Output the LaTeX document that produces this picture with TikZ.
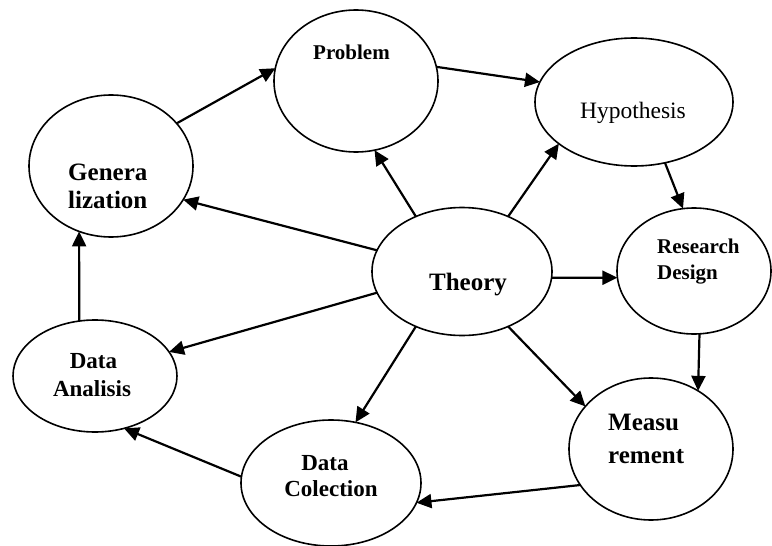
\documentclass[tikz,border=0pt]{standalone}
\usepackage{fontspec}
\setmainfont{Liberation Serif}
\usetikzlibrary{shapes.geometric,arrows.meta}
\newcommand\FontBig{\fontsize{25}{30}\selectfont\bfseries}
\newcommand\FontMid{\fontsize{23}{28}\selectfont\bfseries}
\newcommand\FontSmall{\fontsize{21}{25}\selectfont\bfseries}
\newcommand\FontReg{\fontsize{23.5}{28}\selectfont}
\tikzset{
  oval/.style 2 args={ellipse, draw, line width=1.6pt, inner sep=0pt, outer sep=0pt,
    minimum width=#1pt, minimum height=#2pt},
  arr/.style={line width=2.2pt, -{Triangle[length=15pt,width=14pt]}},
  lbl/.style={inner sep=0pt, anchor=base},
  lblw/.style={inner sep=0pt, anchor=base west}
}
\begin{document}
\begin{tikzpicture}[x=1pt,y=-1pt]
\useasboundingbox (0,0) rectangle (772,546);
% ellipses
\node[oval={164}{142}] (gen)  at (111,166)   {};
\node[oval={164}{142}] (prob) at (356,81)    {};
\node[oval={198}{128}] (hyp)  at (634,102)   {};
\node[oval={154}{126}] (res)  at (694,271)   {};
\node[oval={180}{128}] (theo) at (462,271.5) {};
\node[oval={164}{142}] (meas) at (651,449)   {};
\node[oval={180}{126}] (col)  at (331,483)   {};
\node[oval={164}{112}] (ana)  at (95,376)    {};
% labels
\node[lbl,font=\FontSmall] (tprob) at (351.5,59) {Problem};
\node[lbl,font=\FontReg] (thyp) at (633,118) {Hypothesis};
\node[lblw,font=\FontBig] (tgen1) at (68,180) {Genera};
\node[lblw,font=\FontBig] (tgen2) at (68,208) {lization};
\node[lblw,font=\FontSmall] (tres1) at (657,253) {Research};
\node[lblw,font=\FontSmall] (tres2) at (657,279) {Design};
\node[lbl,font=\FontBig] (ttheo) at (468,290) {Theory};
\node[lblw,font=\FontBig] (tmeas1) at (608,430) {Measu};
\node[lblw,font=\FontBig] (tmeas2) at (608,463) {rement};
\node[lbl,font=\FontMid] (tana1) at (93.5,368) {Data};
\node[lbl,font=\FontMid] (tana2) at (92,396) {Analisis};
\node[lbl,font=\FontMid] (tcol1) at (325,470) {Data};
\node[lbl,font=\FontMid] (tcol2) at (331,496) {Colection};
% connectors
\draw[arr] (gen.33) -- (prob.171);
\draw[arr] (prob.10) -- (hyp.168);
\draw[arr] (hyp.-63) -- (res.100);
\draw[arr] (theo.50) -- (hyp.209);
\draw[arr] (theo.130) -- (prob.-75);
\draw[arr] (theo.166) -- (gen.-25);
\draw[arr] (theo.-4) -- (res.185);
\draw[arr] (theo.194) -- (ana.18);
\draw[arr] (theo.230) -- (col.68);
\draw[arr] (theo.-50) -- (meas.147);
\draw[arr] (res.-85) -- (meas.51);
\draw[arr] (meas.207) -- (col.-13);
\draw[arr] (col.176) -- (ana.-61);
\draw[arr] (ana.106) -- (gen.244);
\end{tikzpicture}
\end{document}
